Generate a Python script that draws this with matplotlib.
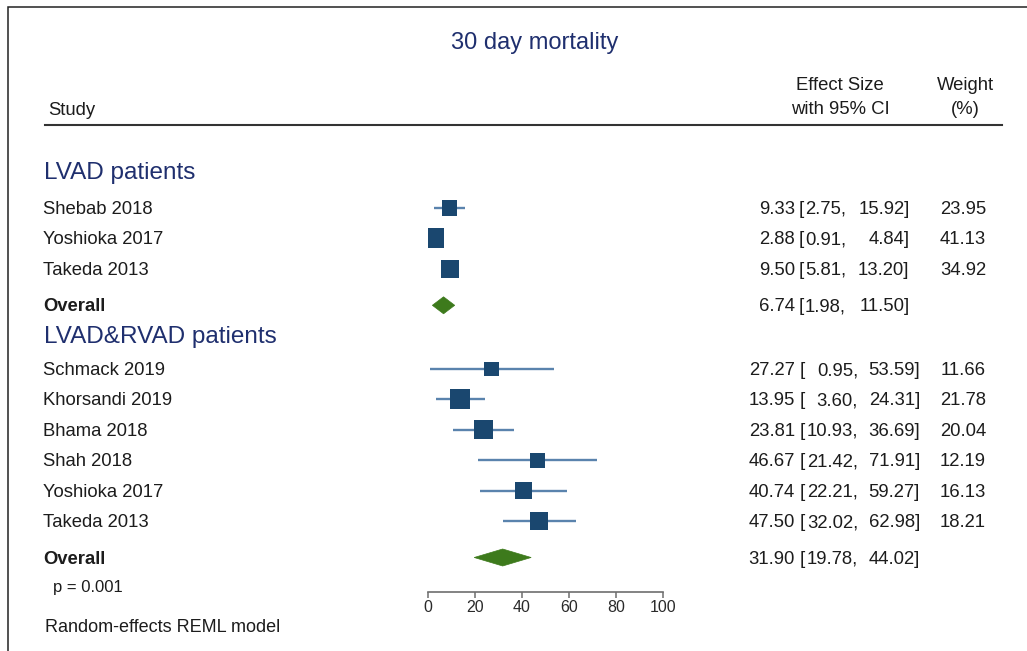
import matplotlib
matplotlib.use("Agg")
import matplotlib.pyplot as plt
from matplotlib.patches import Polygon, Rectangle
from matplotlib.lines import Line2D
import numpy as np

plt.rcParams["font.family"] = ["Liberation Sans", "DejaVu Sans"]

# ---- data -------------------------------------------------------------
title = "30 day mortality"
group_names = ["LVAD patients", "LVAD&RVAD patients"]

lvad_studies = ["Shebab 2018", "Yoshioka 2017", "Takeda 2013"]
lvad_est = [9.33, 2.88, 9.50]
lvad_lo = [2.75, 0.91, 5.81]
lvad_hi = [15.92, 4.84, 13.20]
lvad_wt = [23.95, 41.13, 34.92]
lvad_overall = [6.74, 1.98, 11.50]

both_studies = ["Schmack 2019", "Khorsandi 2019", "Bhama 2018",
                "Shah 2018", "Yoshioka 2017", "Takeda 2013"]
both_est = [27.27, 13.95, 23.81, 46.67, 40.74, 47.50]
both_lo = [0.95, 3.60, 10.93, 21.42, 22.21, 32.02]
both_hi = [53.59, 24.31, 36.69, 71.91, 59.27, 62.98]
both_wt = [11.66, 21.78, 20.04, 12.19, 16.13, 18.21]
both_overall = [31.90, 19.78, 44.02]

het_text = "p = 0.001"
model_text = "Random-effects REML model"
x_ticks = [0, 20, 40, 60, 80, 100]

# ---- figure in pixel units -------------------------------------------
W, H = 1027, 651
fig = plt.figure(figsize=(W / 100, H / 100), dpi=100)
fig.patch.set_facecolor("white")

NAVY = "#1a476f"
LINE = "#5a83ad"
GREEN = "#3d7a1c"
TITLE_C = "#1f2f6e"
TXT = "#1c1c1c"
BODY = 13.3


def fx(x):
    return x / W


def fy(y):
    return 1 - y / H


def ptext(x, y, s, **kw):
    kw.setdefault("color", TXT)
    kw.setdefault("fontsize", BODY)
    kw.setdefault("va", "center")
    fig.text(fx(x), fy(y + 1.5), s, **kw)


# outer frame (open on right/bottom)
fig.add_artist(Rectangle((fx(7.5), fy(660)), fx(1040), fy(7) - fy(660),
                         transform=fig.transFigure, fill=False,
                         edgecolor="#222222", linewidth=1.1))

# header
ptext(534.5, 41, title, ha="center", fontsize=17, color=TITLE_C)
ptext(48, 109, "Study")
ptext(840, 84, "Effect Size", ha="center")
ptext(840, 108, "with 95% CI", ha="center")
ptext(965, 84, "Weight", ha="center")
ptext(965, 108, "(%)", ha="center")
fig.add_artist(Line2D([fx(45), fx(1002)], [fy(125), fy(125)],
                      transform=fig.transFigure, color="#333333", linewidth=1.5))

# forest axes: x in effect-size units, y in pixel rows
AX_L, AX_R, AX_B, AX_T = 427.7, 662.7, 592, 150
PX_PER_UNIT = (AX_R - AX_L) / 100.0
ax = fig.add_axes([fx(AX_L), fy(AX_B), (AX_R - AX_L) / W, (AX_B - AX_T) / H])
ax.set_xlim(0, 100)
ax.set_ylim(AX_B, AX_T)
ax.patch.set_alpha(0)
for side in ["top", "left", "right"]:
    ax.spines[side].set_visible(False)
ax.spines["bottom"].set_color("#6e6e6e")
ax.spines["bottom"].set_linewidth(1.2)
ax.set_yticks([])
ax.set_xticks(x_ticks)
ax.tick_params(axis="x", direction="out", length=4, width=1.1, color="#6e6e6e",
               labelsize=11.5, labelcolor="#2a2a2a", pad=2)

MAX_SIDE = 20.0  # px, side of the heaviest study's square in each subgroup
ROW = 30.4

groups = [
    dict(name=group_names[0], studies=lvad_studies, est=lvad_est, lo=lvad_lo,
         hi=lvad_hi, wt=lvad_wt, overall=lvad_overall,
         head_y=171, first=208, lo_x=846, hi_x=909.5, br_x=798.5),
    dict(name=group_names[1], studies=both_studies, est=both_est, lo=both_lo,
         hi=both_hi, wt=both_wt, overall=both_overall,
         head_y=336, first=369, lo_x=858, hi_x=920, br_x=800),
]

for g in groups:
    ptext(44, g["head_y"], g["name"], fontsize=17.5, color=TITLE_C)
    wmax = max(g["wt"])
    n = len(g["studies"])
    ys = [g["first"] + i * ROW for i in range(n)]
    for i in range(n):
        y = ys[i]
        ax.plot([g["lo"][i], g["hi"][i]], [y, y], color=LINE, linewidth=1.7,
                solid_capstyle="butt", zorder=2)
        side_px = MAX_SIDE * np.sqrt(g["wt"][i] / wmax)
        half_w = side_px / 2 / PX_PER_UNIT
        ax.add_patch(Rectangle((g["est"][i] - half_w, y - side_px / 2),
                               2 * half_w, side_px, facecolor=NAVY,
                               edgecolor="none", zorder=3))
        ptext(43, y, g["studies"][i])
        ptext(795, y, f"{g['est'][i]:.2f}", ha="right")
        ptext(g["br_x"], y, "[", ha="left")
        ptext(g["lo_x"], y, f"{g['lo'][i]:.2f},", ha="right")
        ptext(g["hi_x"], y, f"{g['hi'][i]:.2f}]", ha="right")
        ptext(986, y, f"{g['wt'][i]:.2f}", ha="right")

    oy = ys[-1] + 36.5
    est, lo, hi = g["overall"]
    ax.add_patch(Polygon([[lo, oy], [est, oy - 8.5], [hi, oy], [est, oy + 8.5]],
                         closed=True, facecolor=GREEN, edgecolor=GREEN,
                         linewidth=0.5, zorder=3))
    ptext(43, oy, "Overall", fontweight="bold")
    ptext(795, oy, f"{est:.2f}", ha="right")
    ptext(g["br_x"], oy, "[", ha="left")
    ptext(g["lo_x"], oy, f"{lo:.2f},", ha="right")
    ptext(g["hi_x"], oy, f"{hi:.2f}]", ha="right")

ptext(53, 586, het_text, fontsize=12)
ptext(45, 626, model_text, fontsize=13)

fig.savefig("out.png", dpi=100, facecolor="white")
